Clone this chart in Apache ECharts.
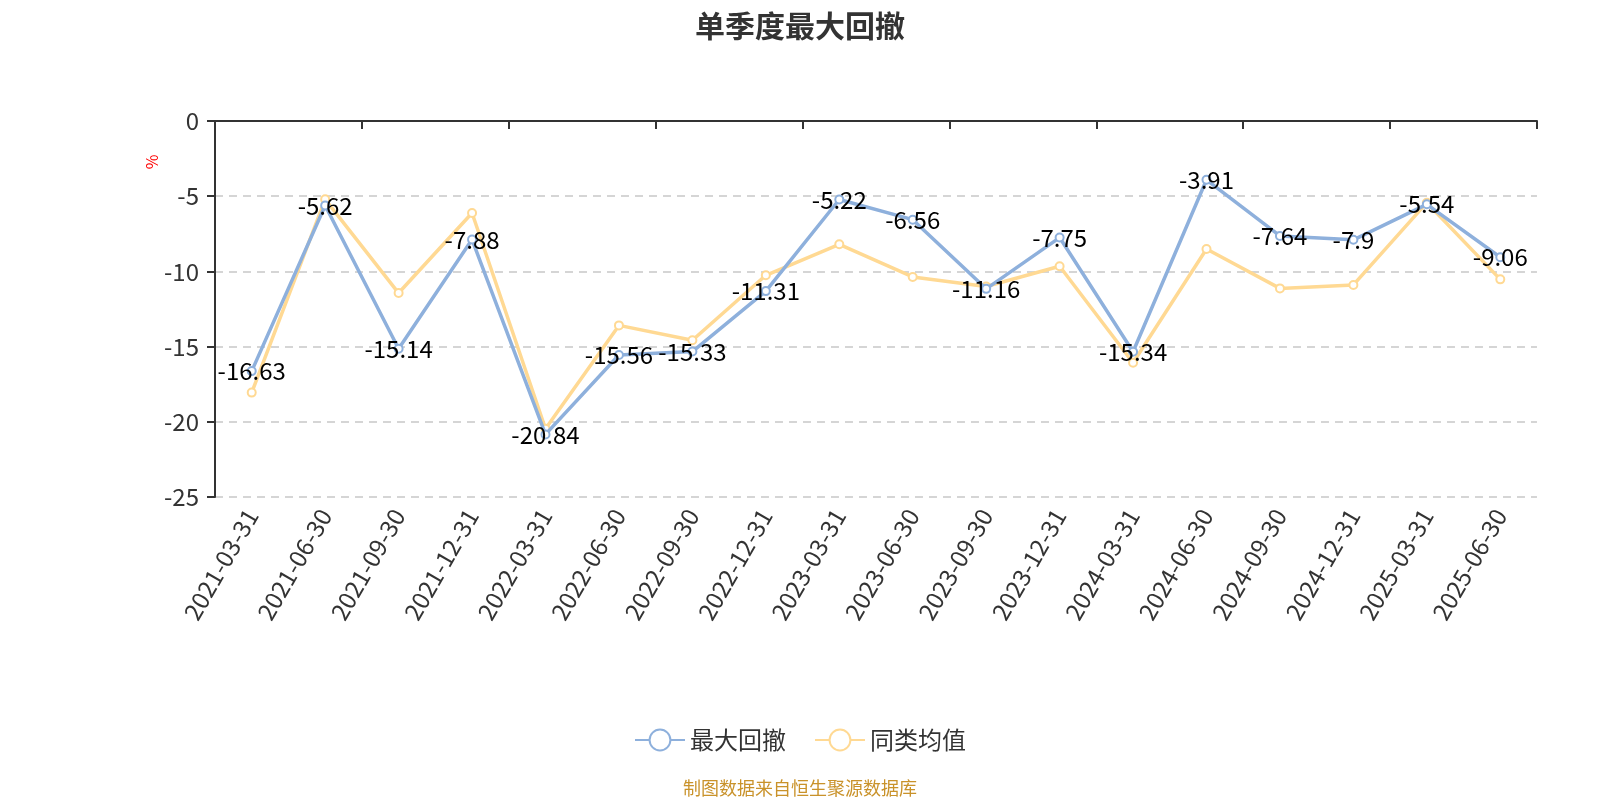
<!DOCTYPE html>
<html>
<head>
<meta charset="utf-8">
<script src="https://cdn.jsdelivr.net/npm/echarts@6/dist/echarts.min.js"></script>
<style>html,body{margin:0;padding:0;background:#fff}#c{width:1600px;height:800px}</style>
</head>
<body>
<div id="c"></div>
<script>
var categories = ['2021-03-31','2021-06-30','2021-09-30','2021-12-31','2022-03-31','2022-06-30','2022-09-30','2022-12-31','2023-03-31','2023-06-30','2023-09-30','2023-12-31','2024-03-31','2024-06-30','2024-09-30','2024-12-31','2025-03-31','2025-06-30'];
var maxDrawdown = [-16.63,-5.62,-15.14,-7.88,-20.84,-15.56,-15.33,-11.31,-5.22,-6.56,-11.16,-7.75,-15.34,-3.91,-7.64,-7.9,-5.54,-9.06];
var peerAverage = [-18.06,-5.21,-11.44,-6.12,-20.46,-13.59,-14.58,-10.26,-8.2,-10.37,-11.0,-9.66,-16.07,-8.51,-11.13,-10.9,-5.43,-10.53];
var yTicks = {min:-25, max:0, interval:5};

var font = '"Microsoft YaHei","Noto Sans CJK SC","Noto Sans",sans-serif';
var chart = echarts.init(document.getElementById('c'));
chart.setOption({
  textStyle:{fontFamily:font},
  title:{text:'单季度最大回撤',left:'center',top:6,textStyle:{fontSize:30,fontWeight:'bold',color:'#333',fontFamily:font}},
  legend:{top:723,left:'center',itemWidth:50,itemHeight:26,itemGap:28,textStyle:{fontSize:24,color:'#333'},
    data:['最大回撤','同类均值']},
  graphic:[
    {type:'text',x:800,y:788,style:{text:'制图数据来自恒生聚源数据库',fill:'#c9922a',font:'18px '+font,align:'center',verticalAlign:'middle'}},
    {type:'text',x:152,y:162,rotation:Math.PI/2,style:{text:'%',fill:'#ff0000',font:'16px '+font,align:'center',verticalAlign:'middle'}}
  ],
  grid:{left:215,right:63,top:121,bottom:303},
  xAxis:[{
    type:'category',data:categories,boundaryGap:true,
    axisLine:{onZero:true,lineStyle:{color:'#333',width:2}},
    axisTick:{show:true,length:8,lineStyle:{color:'#333',width:2}},
    axisLabel:{show:false}
  },{
    type:'category',data:categories,boundaryGap:true,position:'bottom',
    axisLine:{show:false},axisTick:{show:false},
    axisLabel:{rotate:60,fontSize:24,color:'#333',margin:14}
  }],
  yAxis:{type:'value',min:yTicks.min,max:yTicks.max,interval:yTicks.interval,
    axisLine:{show:true,lineStyle:{color:'#333',width:2}},
    axisTick:{show:true,length:8,lineStyle:{color:'#333',width:2}},
    axisLabel:{fontSize:24,color:'#333',margin:16},
    splitLine:{lineStyle:{type:[8,6],color:'#c8c8c8',width:1.5}}
  },
  series:[{
    name:'最大回撤',type:'line',data:maxDrawdown,xAxisIndex:0,
    symbol:'emptyCircle',symbolSize:8,
    itemStyle:{color:'#8eb0dc'},lineStyle:{width:3.5,color:'#8eb0dc'},
    label:{show:true,position:'inside',fontSize:24,color:'#000',fontFamily:font},
    z:3
  },{
    name:'同类均值',type:'line',data:peerAverage,xAxisIndex:0,
    symbol:'emptyCircle',symbolSize:8,
    itemStyle:{color:'#ffd993'},lineStyle:{width:3.5,color:'#ffd993'},
    z:2
  }]
});
</script>
</body>
</html>
